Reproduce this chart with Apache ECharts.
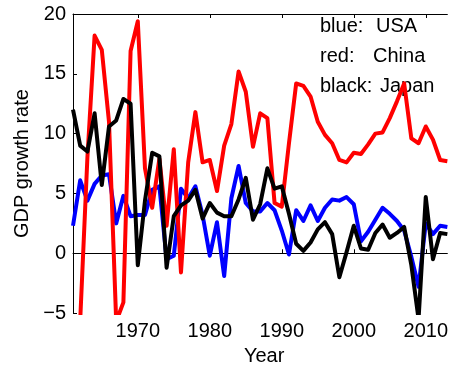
<!DOCTYPE html>
<html>
<head>
<meta charset="utf-8">
<script src="https://cdn.jsdelivr.net/npm/echarts@6/dist/echarts.min.js"></script>
<style>
  html, body { margin: 0; padding: 0; background: #fff; }
  #chart { width: 451px; height: 371px; }
</style>
</head>
<body>
<div id="chart"></div>
<script>
// years 1961 - 2013
const years = [1961, 1962, 1963, 1964, 1965, 1966, 1967, 1968, 1969, 1970,
  1971, 1972, 1973, 1974, 1975, 1976, 1977, 1978, 1979, 1980,
  1981, 1982, 1983, 1984, 1985, 1986, 1987, 1988, 1989, 1990,
  1991, 1992, 1993, 1994, 1995, 1996, 1997, 1998, 1999, 2000,
  2001, 2002, 2003, 2004, 2005, 2006, 2007, 2008, 2009, 2010,
  2011, 2012, 2013];

const usa = [2.3, 6.1, 4.4, 5.8, 6.5, 6.6, 2.5, 4.8, 3.1, 3.2,
  3.2, 5.3, 5.6, -0.5, -0.2, 5.4, 4.6, 5.6, 3.2, -0.2,
  2.6, -1.9, 4.6, 7.3, 4.2, 3.5, 3.5, 4.2, 3.6, 1.9,
  -0.1, 3.6, 2.7, 4.0, 2.7, 3.8, 4.5, 4.4, 4.7, 4.1,
  1.0, 1.8, 2.8, 3.8, 3.3, 2.7, 1.9, -0.3, -2.8, 2.5,
  1.6, 2.3, 2.2];

const china = [-27.3, -5.6, 8.0, 18.2, 17.0, 11.0, -5.7, -4.1, 16.9, 19.4,
  7.1, 3.8, 7.9, 2.3, 8.7, -1.6, 7.6, 11.8, 7.6, 7.8,
  5.2, 9.0, 10.8, 15.2, 13.5, 8.9, 11.7, 11.3, 4.2, 3.9,
  9.2, 14.2, 14.0, 13.1, 11.0, 9.9, 9.2, 7.8, 7.6, 8.4,
  8.3, 9.1, 10.0, 10.1, 11.3, 12.7, 14.2, 9.6, 9.2, 10.6,
  9.5, 7.8, 7.7];

const japan = [12.0, 9.0, 8.5, 11.7, 5.7, 10.6, 11.1, 12.9, 12.5, -1.0,
  4.4, 8.4, 8.1, -1.2, 3.1, 4.0, 4.4, 5.3, 2.9, 4.2,
  3.4, 3.1, 3.1, 4.5, 6.3, 2.8, 4.1, 7.1, 5.4, 5.6,
  3.3, 0.8, 0.2, 0.9, 2.0, 2.6, 1.6, -2.0, 0.1, 2.3,
  0.4, 0.3, 1.7, 2.4, 1.3, 1.7, 2.2, -1.0, -5.5, 4.7,
  -0.5, 1.7, 1.6];

const xTicks = [1970, 1980, 1990, 2000, 2010];

const font = 'Liberation Sans, Arial, Helvetica, sans-serif';
const fs = 20;

const chart = echarts.init(document.getElementById('chart'));

function pairs(vals) {
  return years.map((y, i) => [y, vals[i]]);
}

function lineSeries(name, vals, color) {
  return {
    name: name,
    type: 'line',
    data: pairs(vals),
    showSymbol: false,
    symbol: 'none',
    clip: true,
    lineStyle: { color: color, width: 4, join: 'round' },
    itemStyle: { color: color }
  };
}

function legendText(text, x, y) {
  return { type: 'text', left: x, top: y, style: { text: text, font: fs + 'px ' + font, fill: '#000' } };
}

const option = {
  animation: false,
  grid: { left: 73, right: 0, top: 14, bottom: 55 },
  xAxis: [
    {
      type: 'value',
      min: 1961,
      max: 2013,
      position: 'bottom',
      name: 'Year',
      nameLocation: 'middle',
      nameGap: 31,
      nameTextStyle: { fontFamily: font, fontSize: fs, color: '#000', padding: [0, 0, 0, 8] },
      axisLine: { show: true, lineStyle: { color: '#000', width: 1 } },
      axisTick: { show: true, inside: true, length: 4, customValues: xTicks, lineStyle: { color: '#000' } },
      axisLabel: {
        customValues: xTicks, margin: 8, fontFamily: font, fontSize: fs, color: '#000',
        formatter: v => String(v)
      },
      splitLine: { show: false }
    },
    {
      type: 'value',
      min: 1961,
      max: 2013,
      position: 'top',
      axisLine: { show: true, lineStyle: { color: '#000', width: 1 } },
      axisTick: { show: true, inside: true, length: 4, customValues: xTicks, lineStyle: { color: '#000' } },
      axisLabel: { show: false },
      splitLine: { show: false }
    }
  ],
  yAxis: {
    type: 'value',
    min: -5,
    max: 20,
    interval: 5,
    name: 'GDP growth rate',
    nameLocation: 'middle',
    nameGap: 41,
    nameTextStyle: { fontFamily: font, fontSize: fs, color: '#000' },
    axisLine: { show: true, lineStyle: { color: '#000', width: 1 } },
    axisTick: { show: true, inside: true, length: 4, lineStyle: { color: '#000' } },
    axisLabel: {
      margin: 7,
      fontFamily: font,
      fontSize: fs,
      color: '#000',
      formatter: v => String(v).replace('-', '\u2212')
    },
    splitLine: { show: false }
  },
  graphic: [
    legendText('blue:', 320, 16),
    legendText('USA', 376, 16),
    legendText('red:', 320, 46),
    legendText('China', 373, 46),
    legendText('black:', 320, 76),
    legendText('Japan', 380, 76)
  ],
  series: [
    lineSeries('USA', usa, '#0000ff'),
    lineSeries('China', china, '#ff0000'),
    lineSeries('Japan', japan, '#000000')
  ]
};

chart.setOption(option);
</script>
</body>
</html>
